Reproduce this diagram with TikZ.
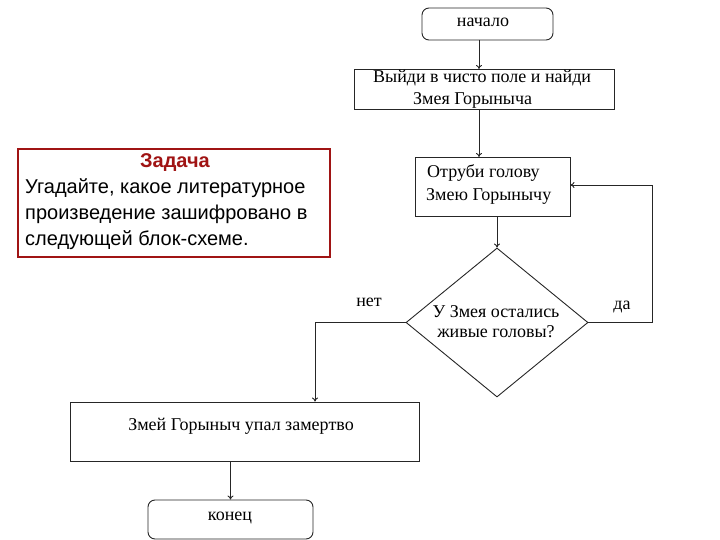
\documentclass[tikz,border=0pt]{standalone}
\usepackage{fontspec}
\setmainfont{Liberation Serif}
\newfontfamily\arialf{Liberation Sans}
\usetikzlibrary{arrows.meta,shapes.geometric}
\definecolor{taskred}{RGB}{160,20,20}
\begin{document}
\begin{tikzpicture}[x=1pt,y=-1pt,
  flow/.style={draw=black!85,line width=0.9pt},
  arr/.style={flow,-{To[length=4pt,width=6pt]}},
  procbox/.style={flow,rectangle,inner sep=0pt},
  termbox/.style={procbox,rounded corners=7pt},
  decbox/.style={flow,diamond,inner sep=0pt},
  lbl/.style={font=\fontsize{18}{22}\selectfont,inner sep=0pt}]
\useasboundingbox (0,0) rectangle (720,540);
\node[termbox,minimum width=131pt,minimum height=32pt] (start) at (487.5,24) {};
\node[lbl] (starttxt) at (483,22) {начало};
\node[procbox,minimum width=260pt,minimum height=40pt] (find) at (484,89) {};
\node[lbl,anchor=west] (findA) at (373,78) {Выйди в чисто поле и найди};
\node[lbl,anchor=west] (findB) at (413,100) {Змея Горыныча};
\node[procbox,minimum width=155pt,minimum height=59pt] (cut) at (492.5,186.5) {};
\node[lbl,anchor=west] (cutA) at (427,173) {Отруби голову};
\node[lbl,anchor=west] (cutB) at (426,196) {Змею Горынычу};
\node[decbox,minimum width=182pt,minimum height=149pt] (dec) at (497,322.5) {};
\node[lbl,align=center,font=\fontsize{18}{20}\selectfont] (dectxt) at (496,322) {У Змея остались\\живые головы?};
\node[procbox,minimum width=349pt,minimum height=59pt] (dead) at (244.5,431.5) {};
\node[lbl] (deadtxt) at (241,426) {Змей Горыныч упал замертво};
\node[termbox,minimum width=165pt,minimum height=39pt] (fin) at (230.5,519.5) {};
\node[lbl] (fintxt) at (230,518) {конец};
\coordinate (yes1) at (652,322.5);
\coordinate (yes2) at (652,185);
\coordinate (no1) at (315,322.5);
\draw[arr] (479,40) -- (479,69);
\draw[arr] (479,109) -- (479,157);
\draw[arr] (dec.north |- cut.south) -- (dec.north);
\draw[flow] (dec.east) -- (yes1) -- (yes2);
\draw[arr] (yes2) -- (cut.east |- yes2);
\draw[arr] (dec.west) -- (no1) -- (no1 |- dead.north);
\draw[arr] (fin.north |- dead.south) -- (fin.north);
\node[lbl] (yes) at (622,307) {да};
\node[lbl] (no) at (369,302) {нет};
\node[draw=taskred,line width=2pt,minimum width=312pt,minimum height=108pt,inner sep=0pt] (task) at (174,203) {};
\node[font=\arialf\bfseries\fontsize{20}{22}\selectfont,text=taskred,inner sep=0pt] (title) at (175,163) {Задача};
\node[font=\arialf\fontsize{20}{26}\selectfont,align=left,anchor=west,inner sep=0pt] (body) at (25,214) {Угадайте, какое литературное\\произведение зашифровано в\\следующей блок-схеме.};
\end{tikzpicture}
\end{document}
